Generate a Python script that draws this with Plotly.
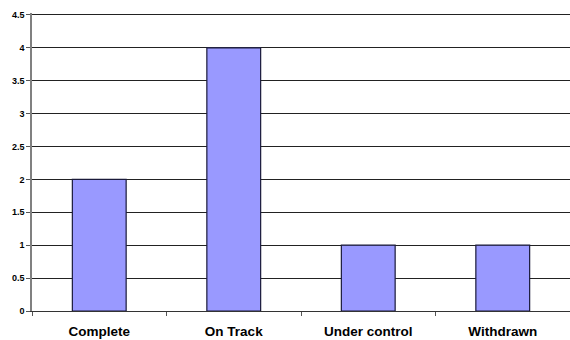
import plotly.graph_objects as go

categories = ["Complete", "On Track", "Under control", "Withdrawn"]
counts = [2, 4, 1, 1]
y_ticks = [0, 0.5, 1, 1.5, 2, 2.5, 3, 3.5, 4, 4.5]
y_tick_labels = ["0", "0.5", "1", "1.5", "2", "2.5", "3", "3.5", "4", "4.5"]

fig = go.Figure(
    go.Bar(
        x=categories,
        y=counts,
        marker=dict(color="#9999FF", line=dict(color="#1a1a3a", width=1.2)),
        width=0.4,
    )
)

fig.update_layout(
    width=570,
    height=340,
    margin=dict(l=32, r=0, t=13, b=29),
    paper_bgcolor="white",
    plot_bgcolor="white",
    showlegend=False,
    font=dict(family="Liberation Sans, Arial, sans-serif", color="black"),
)

fig.update_xaxes(
    range=[-0.5, 3.5],
    showgrid=False,
    showline=True,
    linecolor="#333333",
    linewidth=1,
    ticks="outside",
    tickson="boundaries",
    ticklen=4,
    tickcolor="#555555",
    ticklabelstandoff=8,
    tickfont=dict(size=13.5, family="Liberation Sans, Arial, sans-serif", weight="bold"),
)

# a little headroom above the last tick so its gridline is drawn
fig.update_yaxes(
    range=[0, 4.53],
    tickvals=y_ticks,
    ticktext=y_tick_labels,
    showgrid=True,
    gridcolor="#222222",
    gridwidth=1,
    showline=True,
    linecolor="#808080",
    linewidth=1.5,
    ticks="outside",
    ticklen=4,
    tickcolor="#555555",
    zeroline=False,
    tickfont=dict(size=9, family="Liberation Sans, Arial, sans-serif", weight="bold"),
)

fig.write_html("out.html")
